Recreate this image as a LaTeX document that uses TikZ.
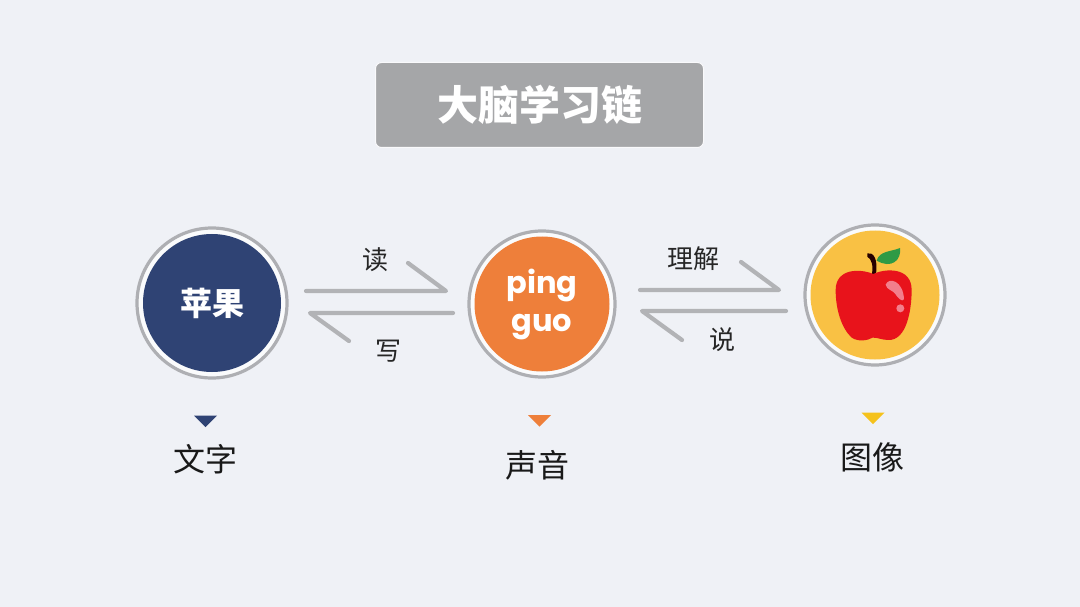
\documentclass[tikz,border=0pt]{standalone}
\usepackage{fontspec}
\setmainfont{Noto Sans CJK SC}
\newfontfamily\latinbold{Poppins}
\usepackage{xcolor}
\usetikzlibrary{arrows.meta,positioning,shapes.geometric}
\definecolor{pagebg}{HTML}{EFF1F6}
\definecolor{titlegray}{HTML}{A5A6A8}
\definecolor{ringgray}{HTML}{AEAFB3}
\definecolor{linegray}{HTML}{B2B3B6}
\definecolor{wordblue}{HTML}{2F4374}
\definecolor{soundorange}{HTML}{EE7F3A}
\definecolor{imageyellow}{HTML}{F9C144}
\definecolor{markyellow}{HTML}{F5C21C}
\definecolor{applered}{HTML}{E8131B}
\definecolor{appleleaf}{HTML}{2F9A45}
\definecolor{appleshine}{HTML}{F27F8C}
\tikzset{
	ring/.style={
		circle,
		draw=ringgray,
		line width=3.2pt,
		fill=white!70!pagebg,
		inner sep=0pt
	},
	disc/.style={
		circle,
		inner sep=0pt,
		text=white,
		align=center,
		font=\bfseries\fontsize{32}{32}\selectfont
	},
	halfarrow/.style={
		draw=linegray,
		line width=4.2pt,
		line cap=round,
		line join=round
	},
	verb/.style={
		font=\fontsize{26}{26}\selectfont,
		text=black!85,
		inner sep=0pt
	},
	pointer/.style={
		isosceles triangle,
		isosceles triangle apex angle=90,
		shape border rotate=-90,
		inner sep=0pt,
		minimum height=11pt,
		minimum width=23pt
	},
	kind/.style={
		font=\fontsize{32}{32}\selectfont,
		text=black!90,
		inner sep=0pt
	}
}
\begin{document}
\begin{tikzpicture}[x=1pt,y=-1pt]
	\useasboundingbox[fill=pagebg] (0,0) rectangle (1080,607);
	
	%--------------------
	% Title
	%--------------------
	\node[draw=white!60!pagebg, line width=1pt, fill=titlegray, rounded corners=6pt,
		minimum width=328pt, minimum height=85pt, inner sep=0pt, text=white,
		font=\bfseries\fontsize{41}{41}\selectfont] (title) at (539.5,105) {大脑学习链};
	
	%--------------------
	% Circles
	%--------------------
	\node[ring, minimum size=150pt] (ringtext) at (212,303) {};
	\node[disc, fill=wordblue, minimum size=138pt] (wordtext) at (ringtext) {苹果};
	
	\node[ring, minimum size=146pt] (ringsound) at (542,304) {};
	\node[disc, fill=soundorange, minimum size=135pt,
		font=\latinbold\bfseries\fontsize{30.5}{38}\selectfont] (wordsound) at (ringsound) {ping\\guo};
	
	\node[ring, minimum size=140pt] (ringimage) at (875,295) {};
	\node[disc, fill=imageyellow, minimum size=129pt] (wordimage) at (ringimage) {};
	
	%--------------------
	% Apple
	%--------------------
	\begin{scope}[shift={(790,210)},x=0.3333pt,y=-0.3333pt]
		\fill[black!85!red] (232,130) .. controls (250,126) and (264,145) .. (258,192)
			-- (246,192) .. controls (250,165) and (245,148) .. (232,140) -- cycle;
		\fill[appleleaf] (260,152) .. controls (268,122) and (305,125) .. (330,114)
			.. controls (335,150) and (305,178) .. (260,152) -- cycle;
		\fill[applered] (250,192) .. controls (285,175) and (365,170) .. (365,240)
			.. controls (365,300) and (350,392) .. (295,390)
			.. controls (275,390) and (262,382) .. (248,383)
			.. controls (232,392) and (205,396) .. (185,383)
			.. controls (155,355) and (137,300) .. (137,240)
			.. controls (137,175) and (210,175) .. (250,192) -- cycle;
		\fill[appleshine] (287,224) .. controls (296,200) and (340,212) .. (342,268)
			.. controls (336,278) and (322,262) .. (316,252)
			.. controls (308,240) and (290,240) .. (287,224) -- cycle;
		\fill[appleshine] (331,295) circle[radius=12];
	\end{scope}
	
	%--------------------
	% Half arrows
	%--------------------
	\coordinate (readstart) at (306,291);
	\coordinate (readtip) at (446,291);
	\coordinate (readbarb) at (408,263);
	\coordinate (writestart) at (453,313);
	\coordinate (writetip) at (310,313);
	\coordinate (writebarb) at (349,341);
	\coordinate (parsestart) at (640,290);
	\coordinate (parsetip) at (779,290);
	\coordinate (parsebarb) at (741,262);
	\coordinate (speakstart) at (786,311);
	\coordinate (speaktip) at (642,311);
	\coordinate (speakbarb) at (682,340);
	
	\draw[halfarrow] (readstart) -- (readtip) -- (readbarb);
	\draw[halfarrow] (writestart) -- (writetip) -- (writebarb);
	\draw[halfarrow] (parsestart) -- (parsetip) -- (parsebarb);
	\draw[halfarrow] (speakstart) -- (speaktip) -- (speakbarb);
	
	\node[verb] (read) at (375,260) {读};
	\node[verb] (write) at (388,351) {写};
	\node[verb] (parse) at (693,259) {理解};
	\node[verb] (speak) at (722,340) {说};
	
	%--------------------
	% Kinds
	%--------------------
	\node[pointer, fill=wordblue] (pointerword) at (205.5,420.5) {};
	\node[pointer, fill=soundorange] (pointersound) at (539.5,420) {};
	\node[pointer, fill=markyellow] (pointerimage) at (873,417.5) {};
	
	\node[kind] (kindword) at (205.5,459) {文字};
	\node[kind] (kindsound) at (537.5,465) {声音};
	\node[kind] (kindimage) at (872,457) {图像};
	
\end{tikzpicture}
\end{document}
